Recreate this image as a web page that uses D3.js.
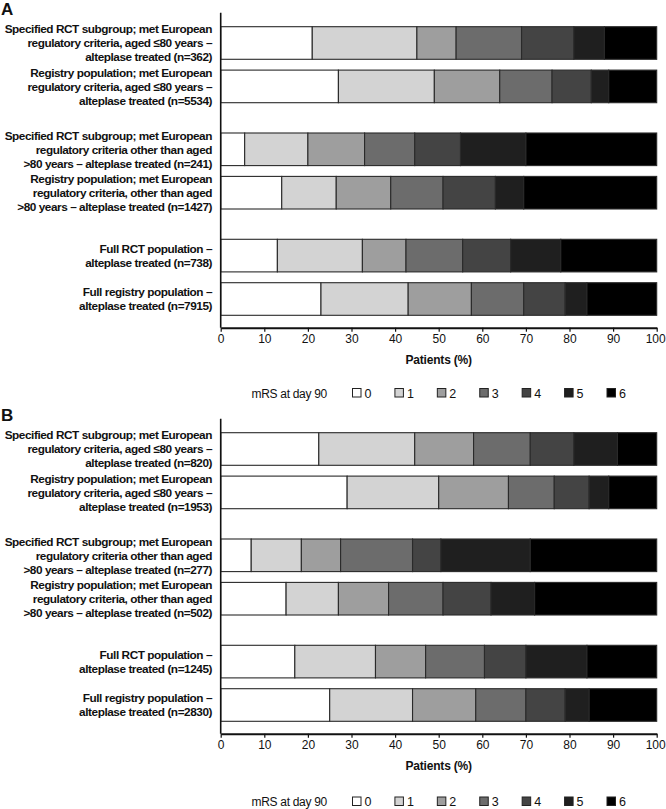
<!DOCTYPE html>
<html>
<head>
<meta charset="utf-8">
<script src="https://cdn.jsdelivr.net/npm/d3@7"></script>
<style>
  html, body { margin: 0; padding: 0; background: #fff; }
  svg { display: block; font-family: "Liberation Sans", Arial, sans-serif; }
</style>
</head>
<body>
<svg id="chart" width="666" height="809"></svg>
<script>
// ---- Data ----
const mrsLevels = ["0", "1", "2", "3", "4", "5", "6"];
const mrsColors = ["#ffffff", "#d3d3d3", "#9e9e9e", "#6c6c6c", "#444444", "#1f1f1f", "#000000"];
const xTicks = [0, 10, 20, 30, 40, 50, 60, 70, 80, 90, 100];

const categoriesA = [
  ["Specified RCT subgroup; met European", "regulatory criteria, aged \u226480 years \u2013", "alteplase treated (n=362)"],
  ["Registry population; met European", "regulatory criteria, aged \u226480 years \u2013", "alteplase treated (n=5534)"],
  ["Specified RCT subgroup; met European", "regulatory criteria other than aged", ">80 years \u2013 alteplase treated (n=241)"],
  ["Registry population; met European", "regulatory criteria, other than aged", ">80 years \u2013 alteplase treated (n=1427)"],
  ["Full RCT population \u2013", "alteplase treated (n=738)"],
  ["Full registry population \u2013", "alteplase treated (n=7915)"]
];
const valuesA = [
  [21, 24, 9, 15, 12, 7, 12],
  [27, 22, 15, 12, 9, 4, 11],
  [5.5, 14.5, 13, 11.5, 10.5, 15, 30],
  [14, 12.5, 12.5, 12, 12, 6.5, 30.5],
  [13, 19.5, 10, 13, 11, 11.5, 22],
  [23, 20, 14.5, 12, 9.5, 5, 16]
];

const categoriesB = [
  ["Specified RCT subgroup; met European", "regulatory criteria, aged \u226480 years \u2013", "alteplase treated (n=820)"],
  ["Registry population; met European", "regulatory criteria, aged \u226480 years \u2013", "alteplase treated (n=1953)"],
  ["Specified RCT subgroup; met European", "regulatory criteria other than aged", ">80 years \u2013 alteplase treated (n=277)"],
  ["Registry population; met European", "regulatory criteria, other than aged", ">80 years \u2013 alteplase treated (n=502)"],
  ["Full RCT population \u2013", "alteplase treated (n=1245)"],
  ["Full registry population \u2013", "alteplase treated (n=2830)"]
];
const valuesB = [
  [22.5, 22, 13.5, 13, 10, 10, 9],
  [29, 21, 16, 10.5, 8, 4.5, 11],
  [7, 11.5, 9, 16.5, 6.5, 20.5, 29],
  [15, 12, 11.5, 12.5, 11, 10, 28],
  [17, 18.5, 11.5, 13.5, 9.5, 14, 16],
  [25, 19, 14.5, 11.5, 9, 5.5, 15.5]
];

// ---- Layout ----
const svg = d3.select("#chart");
const x = d3.scaleLinear().domain([0, 100]).range([220.7, 656.7]);
const color = d3.scaleOrdinal().domain(mrsLevels).range(mrsColors);

function drawPanel(offsetY, letter, categories, values, legendShift) {
  const g = svg.append("g").attr("transform", `translate(0,${offsetY})`);
  const axisTop = 12.7, axisBottom = 327.7;

  const groups = [0, 1, 2];
  const yGroup = d3.scaleBand().domain(groups).range([26.7, 315.3]).paddingInner(0.285).paddingOuter(0);
  const yInner = d3.scaleBand().domain([0, 1]).range([0, yGroup.bandwidth()]).paddingInner(0.249).paddingOuter(0);
  const rowY = i => yGroup(Math.floor(i / 2)) + yInner(i % 2);
  const bh = yInner.bandwidth();

  // panel letter
  g.append("text").attr("x", 1).attr("y", 15)
    .attr("font-size", 17).attr("font-weight", "bold").attr("fill", "#111").text(letter);

  // bars
  values.forEach((vals, i) => {
    let cum = 0;
    const segs = vals.map((v, k) => { const s = { k, x0: cum, x1: cum + v }; cum += v; return s; });
    g.append("g").selectAll("rect").data(segs).enter().append("rect")
      .attr("x", d => x(d.x0))
      .attr("y", rowY(i))
      .attr("width", d => x(d.x1) - x(d.x0))
      .attr("height", bh)
      .attr("fill", d => color(mrsLevels[d.k]))
      .attr("stroke", "#2a2a2a")
      .attr("stroke-width", 1.1);
  });

  // category labels
  categories.forEach((lines, i) => {
    const cy = rowY(i) + bh / 2;
    const n = lines.length;
    const t = g.append("text")
      .attr("text-anchor", "end")
      .attr("font-size", 11.8)
      .attr("letter-spacing", -0.45)
      .attr("font-weight", "bold")
      .attr("fill", "#111");
    lines.forEach((ln, j) => {
      t.append("tspan").attr("x", 212)
        .attr("y", cy + (j - (n - 1) / 2) * 14 + 4.3)
        .text(ln);
    });
  });

  // y axis line
  g.append("line").attr("x1", x(0)).attr("x2", x(0))
    .attr("y1", axisTop).attr("y2", axisBottom)
    .attr("stroke", "#111").attr("stroke-width", 1.6);

  // x axis
  const xAxis = d3.axisBottom(x).tickValues(xTicks).tickSize(4).tickSizeOuter(0).tickPadding(3);
  const ax = g.append("g").attr("transform", `translate(0,${axisBottom})`).call(xAxis);
  ax.select(".domain").attr("stroke", "#111").attr("stroke-width", 2);
  ax.selectAll(".tick line").attr("stroke", "#111").attr("stroke-width", 1.2);
  ax.selectAll(".tick text").attr("font-size", 12).attr("fill", "#111")
    .attr("font-family", "'Liberation Sans', Arial, sans-serif")
    .attr("dx", d => d === 100 ? -1.5 : 0);

  // axis title
  g.append("text").attr("x", (x(0) + x(100)) / 2).attr("y", 363.5)
    .attr("text-anchor", "middle").attr("font-size", 12).attr("letter-spacing", -0.2)
    .attr("font-weight", "bold")
    .attr("fill", "#111").text("Patients (%)");

  // legend
  const lg = g.append("g").attr("transform", `translate(0,${legendShift})`);
  lg.append("text").attr("x", 251.5).attr("y", 397.5)
    .attr("font-size", 12).attr("letter-spacing", -0.3).attr("fill", "#111").text("mRS at day 90");
  const lx = d3.scaleLinear().domain([0, 6]).range([352.5, 607]);
  const items = lg.selectAll("g.item").data(mrsLevels).enter().append("g").attr("class", "item");
  items.append("rect")
    .attr("x", d => lx(+d)).attr("y", 388.5)
    .attr("width", 8.5).attr("height", 8.5)
    .attr("fill", d => color(d)).attr("stroke", "#222").attr("stroke-width", 1);
  items.append("text")
    .attr("x", d => lx(+d) + 12).attr("y", 397.5)
    .attr("font-size", 12.5).attr("fill", "#111").text(d => d);
}

drawPanel(0, "A", categoriesA, valuesA, 0);
drawPanel(406, "B", categoriesB, valuesB, 2.5);
</script>
</body>
</html>
